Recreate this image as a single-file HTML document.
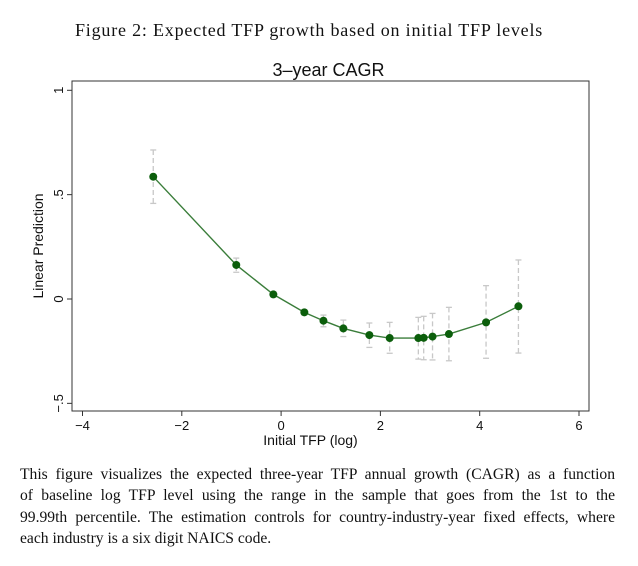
<!DOCTYPE html>
<html><head><meta charset="utf-8"><style>
body{margin:0;background:#fff;width:638px;height:566px;overflow:hidden;position:relative}
.fig{position:absolute;left:75px;top:20px;white-space:nowrap;font:18px "Liberation Serif",serif;letter-spacing:0.8px;color:#111}
.cap{position:absolute;left:20px;top:464px;width:595px;font:15.6px/21.3px "Liberation Serif",serif;color:#111}
.cap div{text-align:justify;text-align-last:justify;white-space:nowrap}
.cap div.last{text-align-last:left}
</style></head><body>
<div class="fig">Figure 2: Expected TFP growth based on initial TFP levels</div>
<svg id="chart" width="638" height="460" style="position:absolute;left:0;top:0"></svg>
<div class="cap">
<div style="white-space:normal">This figure visualizes the expected three-year TFP annual growth (CAGR) as a function</div>
<div style="white-space:normal">of baseline log TFP level using the range in the sample that goes from the 1st to the</div>
<div style="white-space:normal">99.99th percentile. The estimation controls for country-industry-year fixed effects, where</div>
<div class="last">each industry is a six digit NAICS code.</div>
</div>
<script>
const xs=[-2.575,-0.903,-0.156,0.468,0.853,1.254,1.778,2.187,2.764,2.872,3.05,3.38,4.128,4.78];
const ys=[0.586,0.163,0.022,-0.064,-0.104,-0.141,-0.173,-0.187,-0.187,-0.186,-0.18,-0.168,-0.112,-0.035];
const lo=[0.458,0.128,0.010,-0.076,-0.133,-0.180,-0.232,-0.260,-0.288,-0.291,-0.292,-0.296,-0.284,-0.259];
const hi=[0.714,0.196,0.034,-0.052,-0.077,-0.101,-0.115,-0.112,-0.088,-0.083,-0.069,-0.040,0.064,0.187];
const xTicks=[-4,-2,0,2,4,6];
const xTickLabels=["\u22124","\u22122","0","2","4","6"];
const yTicks=[1,0.5,0,-0.5];
const yTickLabels=["1",".5","0","\u2212.5"];
const NS="http://www.w3.org/2000/svg",svg=document.getElementById('chart');
const X=v=>82.5+(v+4)*49.65, Y=v=>299+( -v)*208.7;
function el(t,a,p){const e=document.createElementNS(NS,t);for(const k in a)e.setAttribute(k,a[k]);(p||svg).appendChild(e);return e;}
const L=72,R=589,T=81,B=411;
const tt=el('text',{x:(L+R)/2-2,y:76,'text-anchor':'middle','font-family':'Liberation Sans, sans-serif','font-size':18,fill:'#111'});
tt.textContent='3\u2013year CAGR';


const fr=el('rect',{x:L,y:T,width:R-L,height:B-T,fill:'none',stroke:'#333','stroke-width':1});


xTicks.forEach((v,i)=>{
 const t=el('line',{x1:X(v),x2:X(v),y1:B,y2:B+5,stroke:'#333'});
 
 
 const l=el('text',{x:X(v),y:B+19,'text-anchor':'middle','font-family':'Liberation Sans, sans-serif','font-size':13,fill:'#111'});
 l.textContent=xTickLabels[i];
 
 
});
yTicks.forEach((v,i)=>{
 const t=el('line',{x1:L-5,x2:L,y1:Y(v),y2:Y(v),stroke:'#333'});
 
 
 const l=el('text',{x:0,y:0,transform:`translate(${L-9},${Y(v)}) rotate(-90)`,'text-anchor':'middle','font-family':'Liberation Sans, sans-serif','font-size':13,fill:'#111'});
 l.textContent=yTickLabels[i];
 
 
});
const xt=el('text',{x:(L+R)/2-20,y:445,'text-anchor':'middle','font-family':'Liberation Sans, sans-serif','font-size':14,fill:'#111'});
xt.textContent='Initial TFP (log)';


const yt=el('text',{x:0,y:0,transform:`translate(43,${(T+B)/2})`+' rotate(-90)','text-anchor':'middle','font-family':'Liberation Sans, sans-serif','font-size':14,fill:'#111'});
yt.textContent='Linear Prediction';


xs.forEach((v,i)=>{
 const g=el('g',{stroke:'#c8c8c8','stroke-width':1.3});
 
 
 el('line',{x1:X(v),x2:X(v),y1:Y(hi[i]),y2:Y(lo[i]),'stroke-dasharray':'5,3'},g);
 el('line',{x1:X(v)-3,x2:X(v)+3,y1:Y(hi[i]),y2:Y(hi[i])},g);
 el('line',{x1:X(v)-3,x2:X(v)+3,y1:Y(lo[i]),y2:Y(lo[i])},g);
});
const ln=el('polyline',{points:xs.map((v,i)=>X(v)+','+Y(ys[i])).join(' '),fill:'none',stroke:'#3a7d3a','stroke-width':1.4});


xs.forEach((v,i)=>{
 const c=el('circle',{cx:X(v),cy:Y(ys[i]),r:4,fill:'#0b5e0b'});
 
 
});
</script>
</body></html>
